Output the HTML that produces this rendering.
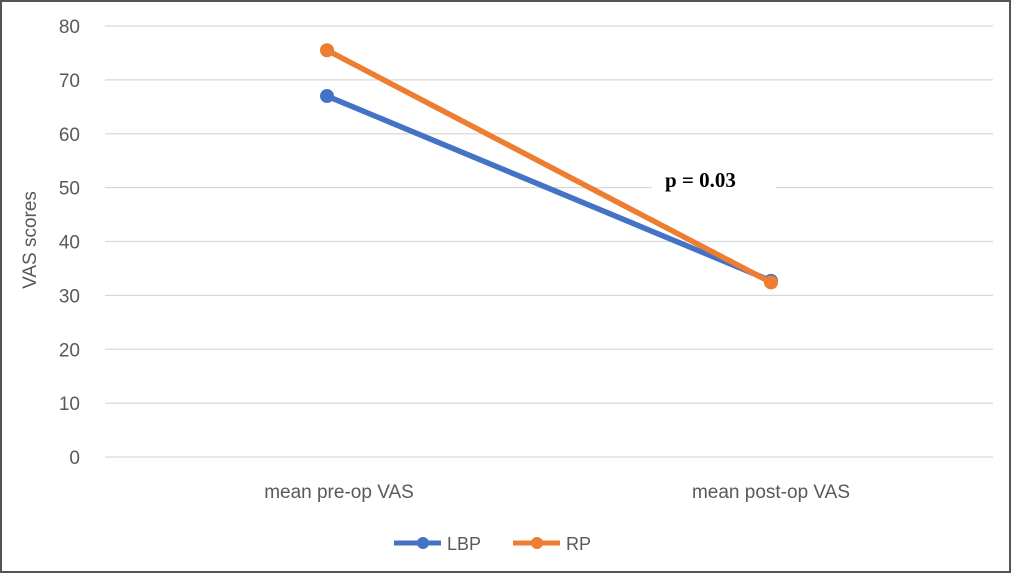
<!DOCTYPE html>
<html><head><meta charset="utf-8"><style>
body{margin:0;background:#fff;}
svg{display:block;font-family:"Liberation Sans",sans-serif;}
</style></head><body>
<svg id="chart" width="1011" height="573" viewBox="0 0 1011 573">
<rect x="1" y="1" width="1009" height="571" fill="#fff" stroke="#555" stroke-width="2"/>
<g id="grid"></g><g id="yticks"></g><g id="xlabels"></g>
<rect x="652" y="164" width="124" height="34" fill="#fff"/>
<g id="series"></g>
<text x="36" y="240" transform="rotate(-90 36 240)" text-anchor="middle" font-size="19" fill="#595959">VAS scores</text>
<text x="665" y="187" font-family="Liberation Serif,serif" font-weight="bold" font-size="21" fill="#000">p = 0.03</text>
<g>
<g>
<line x1="394" y1="543" x2="441" y2="543" stroke="#4472C4" stroke-width="5"/>
<circle cx="423" cy="543" r="6" fill="#4472C4"/>
<text x="447" y="550" font-size="18" fill="#595959">LBP</text></g>
<g>
<line x1="513" y1="543" x2="560" y2="543" stroke="#ED7D31" stroke-width="5"/>
<circle cx="537" cy="543" r="6" fill="#ED7D31"/>
<text x="566" y="550" font-size="18" fill="#595959">RP</text></g>
</g>
</svg>
<script>
const categories=["mean pre-op VAS","mean post-op VAS"];
const lbpValues=[67,32.7];
const rpValues=[75.5,32.4];
const yTicks=[0,10,20,30,40,50,60,70,80];
const ns="http://www.w3.org/2000/svg";
const X0=105,X1=993,Y0=457,Y1=26,YMAX=80;
const y=v=>Y0-(v/YMAX)*(Y0-Y1);
const x=i=>X0+(X1-X0)*(i+0.5)/categories.length;
function mk(t,a,p){const e=document.createElementNS(ns,t);for(const k in a)e.setAttribute(k,a[k]);p.appendChild(e);return e;}
const grid=document.getElementById('grid'),yt=document.getElementById('yticks'),xl=document.getElementById('xlabels'),ser=document.getElementById('series');
yTicks.forEach(v=>{
 const l=mk('line',{x1:X0,x2:X1,y1:y(v),y2:y(v),stroke:'#d9d9d9','stroke-width':1.3},grid);
 
 
 const t=mk('text',{x:80,y:y(v)+7,'text-anchor':'end','font-size':19,fill:'#595959'},yt);
 t.textContent=v;
 
 
});
categories.forEach((c,i)=>{
 const t=mk('text',{x:x(i)+(i===0?12:0),y:498,'text-anchor':'middle','font-size':19,fill:'#595959'},xl);
 t.textContent=c;
 
 
});
[[lbpValues,'#4472C4','lbp'],[rpValues,'#ED7D31','rp']].forEach(([vals,col,n])=>{
 const pts=vals.map((v,i)=>x(i)+','+y(v)).join(' ');
 const pl=mk('polyline',{points:pts,fill:'none',stroke:col,'stroke-width':5.5,'stroke-linecap':'round'},ser);
 
 
 vals.forEach((v,i)=>{
  const c=mk('circle',{cx:x(i),cy:y(v),r:7,fill:col},ser);
  
  
 });
});
</script>
</body></html>
